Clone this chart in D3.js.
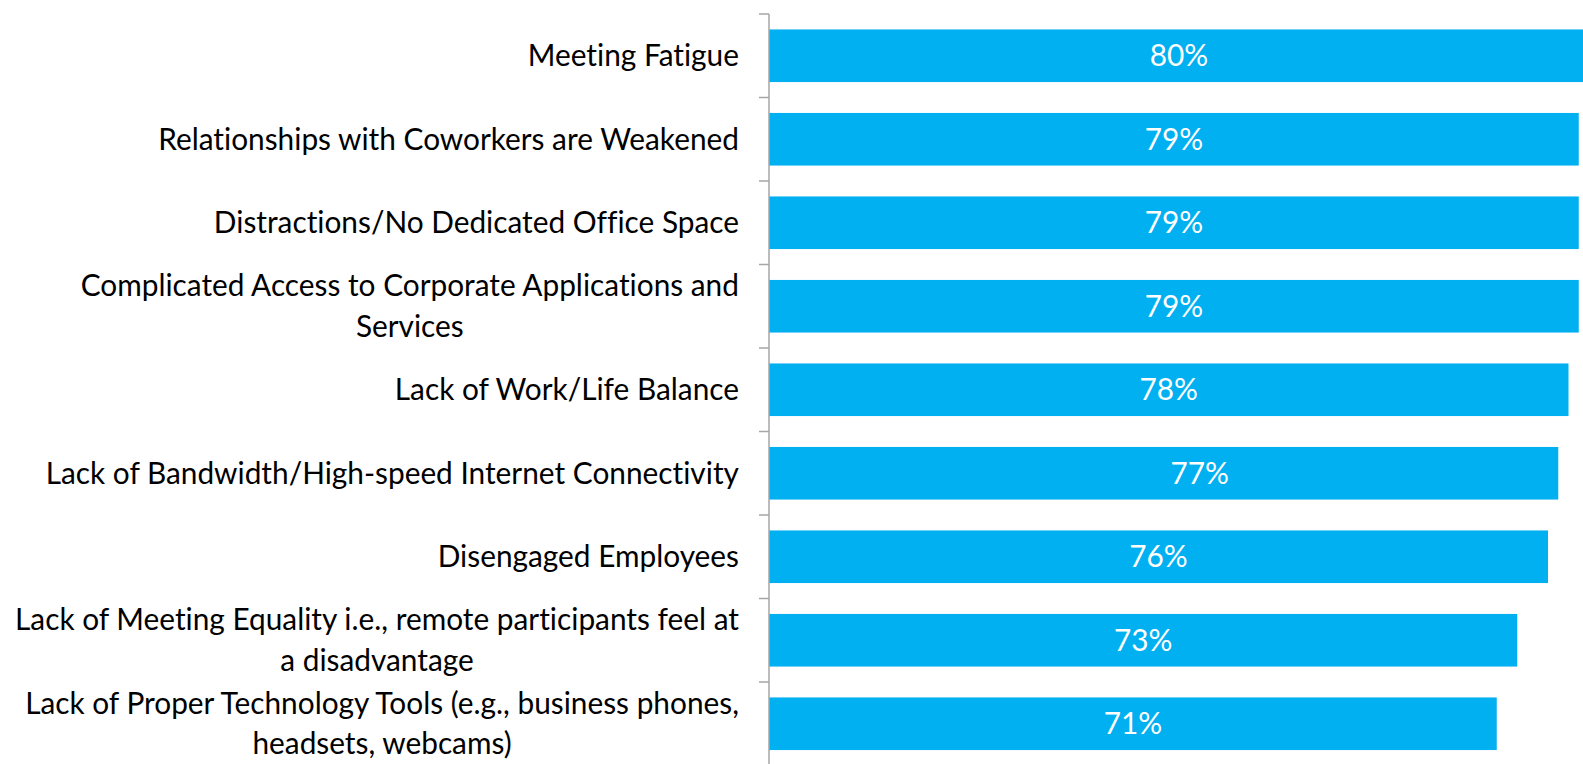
<!DOCTYPE html>
<html>
<head>
<meta charset="utf-8">
<script src="https://cdn.jsdelivr.net/npm/d3@7"></script>
<style>
  html, body { margin: 0; padding: 0; background: #ffffff; }
  svg { display: block; }
  text { font-variant-ligatures: none; font-feature-settings: "liga" 0, "clig" 0; }
</style>
</head>
<body>
<script>
const categories = [
  "Meeting Fatigue",
  "Relationships with Coworkers are Weakened",
  "Distractions/No Dedicated Office Space",
  "Complicated Access to Corporate Applications and Services",
  "Lack of Work/Life Balance",
  "Lack of Bandwidth/High-speed Internet Connectivity",
  "Disengaged Employees",
  "Lack of Meeting Equality i.e., remote participants feel at a disadvantage",
  "Lack of Proper Technology Tools (e.g., business phones, headsets, webcams)"
];
const values = [80, 79, 79, 79, 78, 77, 76, 73, 71];
const valueLabels = ["80%", "79%", "79%", "79%", "78%", "77%", "76%", "73%", "71%"];

const W = 1583, H = 764;
const axisX = 769;
const fontFamily = "Lato, 'Open Sans', sans-serif";
const fontSize = 31;
const barColor = "#00B0F0";
const axisColor = "#A6A6A6";

const svg = d3.select("body").append("svg").attr("width", W).attr("height", H);

// horizontal compression so the substitute font matches the narrow original
const probe = svg.append("text").attr("font-family", fontFamily).attr("font-size", fontSize)
  .text("Lack of Meeting Equality i.e., remote participants feel at");
const sx = 724 / probe.node().getComputedTextLength();
probe.remove();

function measure(str) {
  const t = svg.append("text").attr("font-family", fontFamily).attr("font-size", fontSize).text(str);
  const w = t.node().getComputedTextLength() * sx;
  t.remove();
  return w;
}
function wrap(str, maxW) {
  const words = str.split(" ");
  const lines = [];
  let cur = "";
  for (const w of words) {
    const test = cur ? cur + " " + w : w;
    if (cur && measure(test) > maxW) { lines.push(cur); cur = w; }
    else cur = test;
  }
  if (cur) lines.push(cur);
  return lines;
}

const x = d3.scaleLinear().domain([0, 100]).range([axisX, axisX + 1025]);
const y = d3.scaleBand().domain(categories).range([14, 14 + 9 * 83.5])
  .paddingInner(0.37).paddingOuter(0.185);

// bars
svg.append("g").selectAll("rect").data(categories).join("rect")
  .attr("x", x(0))
  .attr("y", d => y(d))
  .attr("width", (d, i) => x(values[i]) - x(0))
  .attr("height", y.bandwidth())
  .attr("fill", barColor);

// axis line with ticks at band boundaries
const boundaries = categories.map(d => y(d) - y.step() * y.paddingInner() / 2);
boundaries.push(boundaries[boundaries.length - 1] + y.step());
const axisG = svg.append("g");
axisG.append("line")
  .attr("x1", axisX).attr("x2", axisX)
  .attr("y1", boundaries[0]).attr("y2", boundaries[boundaries.length - 1])
  .attr("stroke", axisColor).attr("stroke-width", 1.5);
axisG.selectAll("line.tick").data(boundaries).join("line")
  .attr("class", "tick")
  .attr("x1", axisX - 10).attr("x2", axisX)
  .attr("y1", d => d).attr("y2", d => d)
  .attr("stroke", axisColor).attr("stroke-width", 1.5);

// category labels
const labelRight = axisX - 30;
const lineH = 40.4;
const baseOff = 10.3;
categories.forEach(cat => {
  const lines = wrap(cat, 730);
  const blockW = d3.max(lines, l => measure(l));
  const cx = labelRight - blockW / 2;
  const cy = y(cat) + y.bandwidth() / 2;
  const g = svg.append("g").attr("transform", `translate(${cx},${cy}) scale(${sx},1)`);
  lines.forEach((l, i) => {
    g.append("text")
      .attr("x", 0)
      .attr("y", (i - (lines.length - 1) / 2) * lineH + baseOff)
      .attr("text-anchor", "middle")
      .attr("font-family", fontFamily)
      .attr("font-size", fontSize)
      .attr("fill", "#000000")
      .text(l);
  });
});

// value labels (the 77% label sits nudged right in the original)
const labelNudge = { 5: 36 };
categories.forEach((cat, i) => {
  const cx = (x(0) + x(values[i])) / 2 + (labelNudge[i] || 0);
  const cy = y(cat) + y.bandwidth() / 2;
  svg.append("g").attr("transform", `translate(${cx},${cy}) scale(${sx},1)`)
    .append("text")
    .attr("x", 0).attr("y", baseOff)
    .attr("text-anchor", "middle")
    .attr("font-family", fontFamily)
    .attr("font-size", fontSize)
    .attr("fill", "#ffffff")
    .text(valueLabels[i]);
});
</script>
</body>
</html>
